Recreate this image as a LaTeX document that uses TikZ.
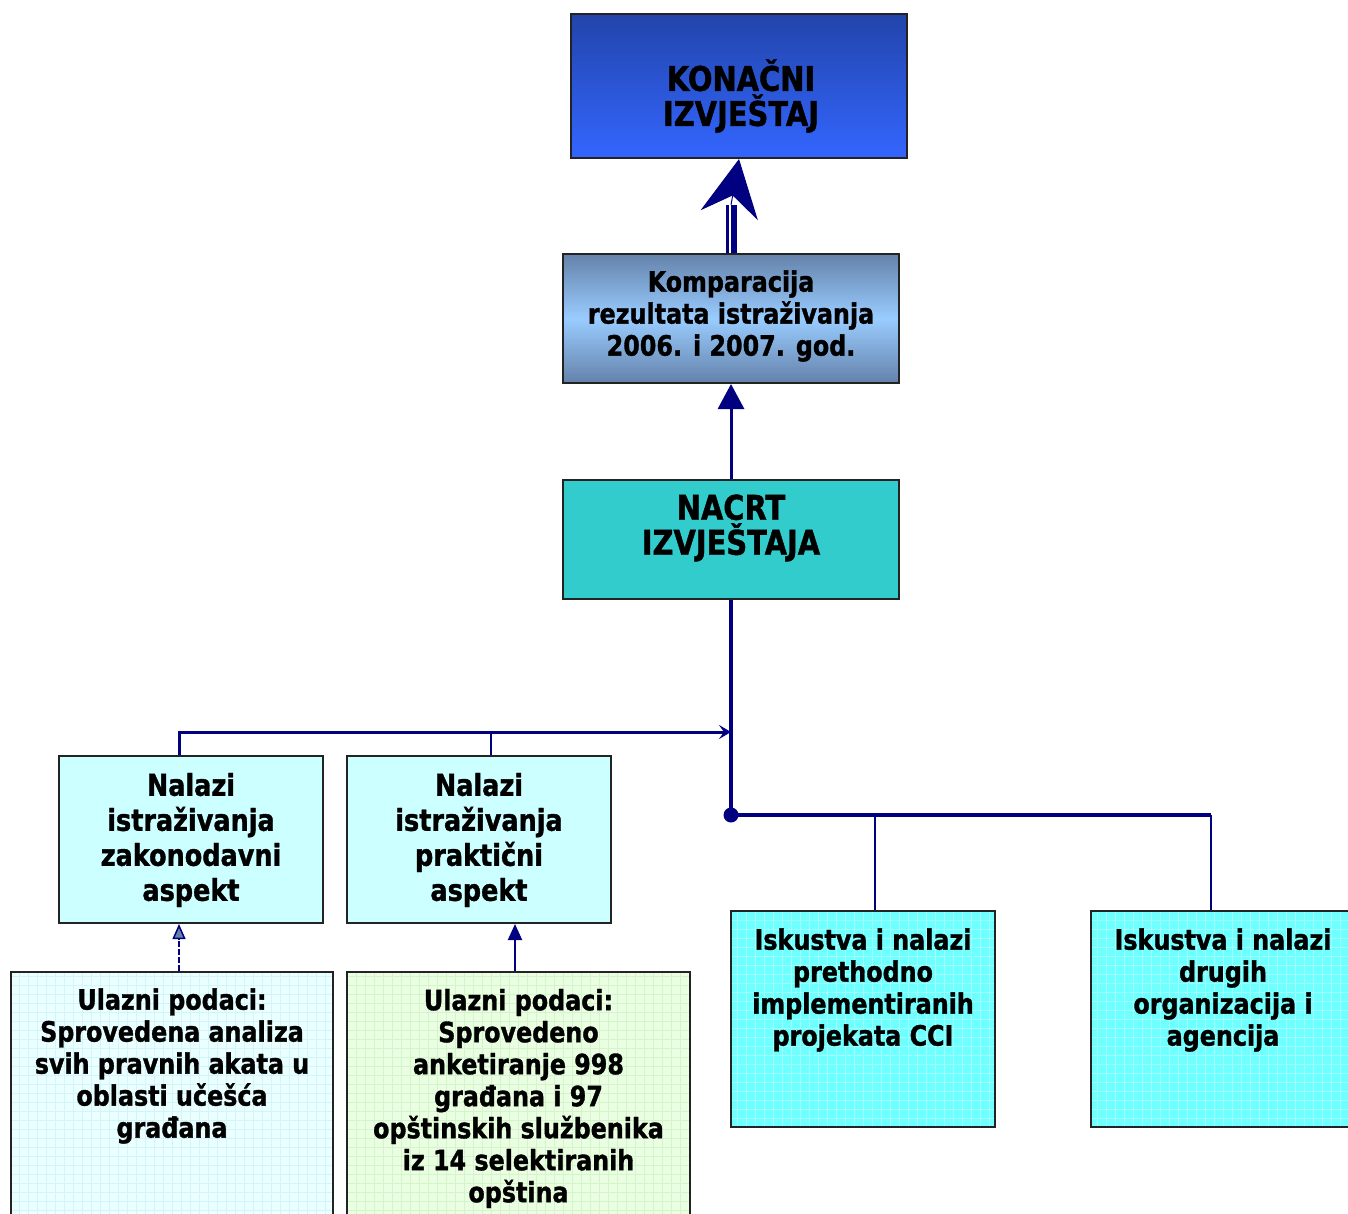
\documentclass[tikz,border=0pt]{standalone}
\usepackage{fontspec}
\setmainfont{DejaVu Sans}[FakeStretch=0.85, BoldFeatures={FakeBold=1.2}]
\usetikzlibrary{arrows.meta}
\definecolor{navyline}{RGB}{0,0,128}
\definecolor{boxedge}{RGB}{35,35,35}
\definecolor{topblue}{RGB}{34,68,170}
\definecolor{lowblue}{RGB}{51,102,255}
\definecolor{steelblue}{RGB}{100,130,170}
\definecolor{skyblue}{RGB}{153,204,255}
\definecolor{nacrtfill}{RGB}{51,204,204}
\definecolor{nalazfill}{RGB}{204,255,255}
\definecolor{aquafill}{RGB}{110,255,255}
\definecolor{aquagrid}{RGB}{160,255,255}
\definecolor{icefill}{RGB}{234,255,255}
\definecolor{icegrid}{RGB}{212,244,248}
\definecolor{mintfill}{RGB}{234,255,226}
\definecolor{mintgrid}{RGB}{212,244,204}
\begin{document}
\begin{tikzpicture}[x=1pt,y=-1pt,
  box/.style={draw=boxedge, line width=2pt, inner sep=0pt, minimum width=#1},
  box/.default=264pt,
  gridded/.style={path picture={\draw[#1, line width=0.8pt]
      (path picture bounding box.south west) grid[step=9pt]
      (path picture bounding box.north east);}},
  lbl/.style={inner sep=0pt, align=center, font=\bfseries\fontsize{28}{32}\selectfont},
  bigtxt/.style={lbl, font=\bfseries\fontsize{34}{35}\selectfont},
  midtxt/.style={lbl, font=\bfseries\fontsize{30}{35}\selectfont},
  wire/.style={navyline, line width=#1},
  wire/.default=2pt]
\useasboundingbox (0,0) rectangle (1348,1213);
\clip (0,0) rectangle (1348,1213);
% top part
\node[box=336pt, minimum height=144pt, top color=topblue, bottom color=lowblue] (konacni) at (739,86) {};
\node[bigtxt] (konacnitxt) at (741,96) {KONAČNI\\IZVJEŠTAJ};
\node[box=336pt, minimum height=129pt, top color=steelblue, bottom color=steelblue, middle color=skyblue] (kompar) at (731,318.5) {};
\node[lbl] (kompartxt) at (731,316) {Komparacija\\rezultata istraživanja\\2006. i 2007. god.};
\node[box=336pt, minimum height=119pt, fill=nacrtfill] (nacrt) at (731,539.5) {};
\node[bigtxt] (nacrttxt) at (731,528) {NACRT\\IZVJEŠTAJA};
% findings
\node[box, minimum height=167pt, fill=nalazfill] (nalaz1) at (191,839.5) {};
\node[midtxt] (nalaz1txt) at (191,840) {Nalazi\\istraživanja\\zakonodavni\\aspekt};
\node[box, minimum height=167pt, fill=nalazfill] (nalaz2) at (479,839.5) {};
\node[midtxt] (nalaz2txt) at (479,840) {Nalazi\\istraživanja\\praktični\\aspekt};
% inputs
\node[box=322pt, minimum height=260pt, fill=icefill, gridded=icegrid] (ulaz1) at (172,1102) {};
\node[lbl] (ulaz1txt) at (172,1066) {Ulazni podaci:\\Sprovedena analiza\\svih pravnih akata u\\oblasti učešća\\građana};
\node[box=343pt, minimum height=260pt, fill=mintfill, gridded=mintgrid] (ulaz2) at (518.5,1102) {};
\node[lbl] (ulaz2txt) at (518.5,1098.5) {Ulazni podaci:\\Sprovedeno\\anketiranje 998\\građana i 97\\opštinskih službenika\\iz 14 selektiranih\\opština};
\node[box, minimum height=216pt, fill=aquafill, gridded=aquagrid] (iskus1) at (863,1019) {};
\node[lbl] (iskus1txt) at (863,990) {Iskustva i nalazi\\prethodno\\implementiranih\\projekata CCI};
\node[box, minimum height=216pt, fill=aquafill, gridded=aquagrid] (iskus2) at (1223,1019) {};
\node[lbl] (iskus2txt) at (1223,990) {Iskustva i nalazi\\drugih\\organizacija i\\agencija};
% connectors
\coordinate (joint) at (731,732);
\coordinate (hub) at (731,815);
\coordinate (tipbase) at (731,205);
\draw[wire=6pt] ([xshift=3pt]kompar.north) -- ([xshift=3pt]kompar.north |- tipbase);
\draw[wire=2.5pt] ([xshift=-3.5pt]kompar.north) -- ([xshift=-3.5pt]kompar.north |- tipbase);
\draw[wire=1pt, -{Stealth[width=58pt, length=57pt, inset=20pt]}] (tipbase) -- (konacni.south);
\draw[wire=3pt, -{Triangle[width=26pt, length=25pt]}] (nacrt.north) -- (kompar.south);
\draw[wire=3.5pt] (nacrt.south) -- (hub);
\fill[navyline] (hub) circle (7.5);
\draw[wire=3pt, -{Stealth[width=14pt, length=12pt, inset=5pt]}] ([xshift=-12pt]nalaz1.north) |- (joint);
\draw[wire] ([xshift=12pt]nalaz2.north) -- ([xshift=12pt]nalaz2.north |- joint);
\draw[wire=4pt] (hub) -- ([xshift=-12pt]hub -| iskus2.north) coordinate (busend);
\draw[wire] ([xshift=12pt]iskus1.north) -- ([xshift=12pt]iskus1.north |- hub);
\draw[wire] ([xshift=-12pt]iskus2.north) -- (busend);
\draw[wire=1.5pt, dash pattern=on 6pt off 2pt, -{Triangle[width=13pt, length=15pt, fill=steelblue]}] ([xshift=7pt]ulaz1.north) -- ([xshift=-12pt]nalaz1.south);
\draw[wire, -{Triangle[width=14pt, length=16pt]}] ([xshift=-3.5pt]ulaz2.north) -- ([xshift=36pt]nalaz2.south);
\end{tikzpicture}
\end{document}
